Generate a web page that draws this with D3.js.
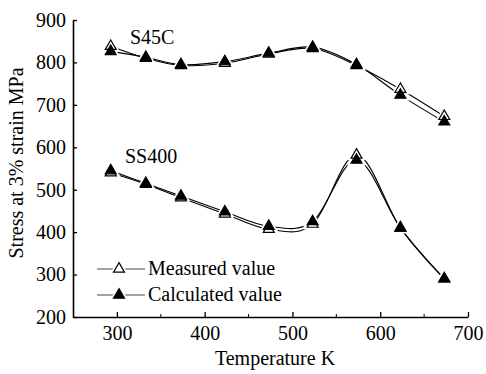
<!DOCTYPE html>
<html>
<head>
<meta charset="utf-8">
<script src="https://cdn.jsdelivr.net/npm/d3@7"></script>
<style>
  body { margin: 0; background: #fff; }
  svg text { font-family: "Liberation Serif", "Times New Roman", Times, "DejaVu Serif", serif !important; fill: #000; }
</style>
</head>
<body>
<div id="chart"></div>
<script>
// temperatures (K)
var temps = [293, 333, 373, 423, 473, 523, 573, 623, 673];

// S45C
var s45cMeasured = [838, 810, 793, 798, 820, 833, 793, 737, 673];
var s45cCalculated = [826, 812, 795, 802, 822, 836, 795, 723, 660];

// SS400
var ss400Measured = [540, 513, 481, 443, 407, 419, 582, 410, 290];
var ss400Calculated = [545, 515, 485, 448, 414, 425, 570, 410, 290];

var xTicks = [300, 400, 500, 600, 700];
var xMinor = [350, 450, 550, 650];
var yTicks = [200, 300, 400, 500, 600, 700, 800, 900];

var width = 486, height = 374;
var margin = {top: 20, right: 18, bottom: 57, left: 73};
var serif = '"Liberation Serif", "Times New Roman", Times, "DejaVu Serif", serif';

var svg = d3.select("#chart").append("svg")
  .attr("width", width).attr("height", height)
  .attr("font-family", serif);

var x = d3.scaleLinear().domain([250, 700]).range([margin.left, width - margin.right]);
var y = d3.scaleLinear().domain([200, 900]).range([height - margin.bottom, margin.top]);

// axes, ticks pointing inward
var xAxis = svg.append("g")
  .attr("transform", "translate(0," + y(200) + ")")
  .call(d3.axisBottom(x).tickValues(xTicks).tickSizeInner(-5).tickSizeOuter(0).tickPadding(9));
xAxis.attr("font-family", serif);
xAxis.selectAll(".tick text").attr("font-size", 20).attr("dy", "0.71em");
xAxis.append("g").selectAll("line").data(xMinor).enter().append("line")
  .attr("x1", function(d){ return x(d); }).attr("x2", function(d){ return x(d); })
  .attr("y1", 0).attr("y2", -3).attr("stroke", "#000");

var yAxis = svg.append("g")
  .attr("transform", "translate(" + x(250) + ",0)")
  .call(d3.axisLeft(y).tickValues(yTicks).tickSizeInner(-4).tickSizeOuter(0).tickPadding(7));
yAxis.attr("font-family", serif);
yAxis.selectAll(".tick text").attr("font-size", 20);

svg.selectAll(".domain").attr("stroke-width", 1.6);
svg.selectAll(".tick line").attr("stroke-width", 1.3);

// axis titles
svg.append("text")
  .attr("x", 275).attr("y", 365)
  .attr("text-anchor", "middle").attr("font-size", 20)
  .text("Temperature K");

svg.append("text")
  .attr("transform", "translate(23,163) rotate(-90)")
  .attr("text-anchor", "middle").attr("font-size", 20)
  .text("Stress at 3% strain MPa");

// series labels
svg.append("text").attr("x", 130).attr("y", 44).attr("font-size", 20).text("S45C");
svg.append("text").attr("x", 125).attr("y", 163).attr("font-size", 20).text("SS400");

var line = d3.line()
  .x(function(d, i){ return x(temps[i]); })
  .y(function(d){ return y(d); })
  .curve(d3.curveCatmullRom.alpha(0));

var series = [s45cMeasured, s45cCalculated, ss400Measured, ss400Calculated];

svg.append("g").selectAll("path").data(series).enter().append("path")
  .attr("d", line)
  .attr("fill", "none")
  .attr("stroke", "#000")
  .attr("stroke-width", 1.1);

var tri = d3.symbol().type(d3.symbolTriangle).size(52);
var halo = d3.symbol().type(d3.symbolTriangle).size(150);

function halos(vals) {
  svg.append("g").selectAll("path").data(vals).enter().append("path")
    .attr("d", halo)
    .attr("transform", function(d, i){ return "translate(" + x(temps[i]) + "," + y(d) + ")"; })
    .attr("fill", "#fff");
}

function drawMarkers(vals, filled) {
  svg.append("g").selectAll("path").data(vals).enter().append("path")
    .attr("d", tri)
    .attr("transform", function(d, i){ return "translate(" + x(temps[i]) + "," + y(d) + ")"; })
    .attr("fill", filled ? "#000" : "#fff")
    .attr("stroke", "#000")
    .attr("stroke-width", 1.2);
}

halos(s45cMeasured); halos(s45cCalculated);
halos(ss400Measured); halos(ss400Calculated);
drawMarkers(s45cMeasured, false);
drawMarkers(ss400Measured, false);
drawMarkers(s45cCalculated, true);
drawMarkers(ss400Calculated, true);

// legend
var legend = [
  {label: "Measured value", filled: false, y: 269},
  {label: "Calculated value", filled: true, y: 295}
];
var lg = svg.append("g");
legend.forEach(function(l) {
  lg.append("line").attr("x1", 97).attr("x2", 145).attr("y1", l.y).attr("y2", l.y)
    .attr("stroke", "#444").attr("stroke-width", 1);
  lg.append("path").attr("d", halo).attr("transform", "translate(119," + l.y + ")").attr("fill", "#fff");
  lg.append("path").attr("d", tri).attr("transform", "translate(119," + l.y + ")")
    .attr("fill", l.filled ? "#000" : "#fff").attr("stroke", "#000").attr("stroke-width", 1.2);
  lg.append("text").attr("x", 148).attr("y", l.y + 6).attr("font-size", 20).text(l.label);
});
</script>
</body>
</html>
